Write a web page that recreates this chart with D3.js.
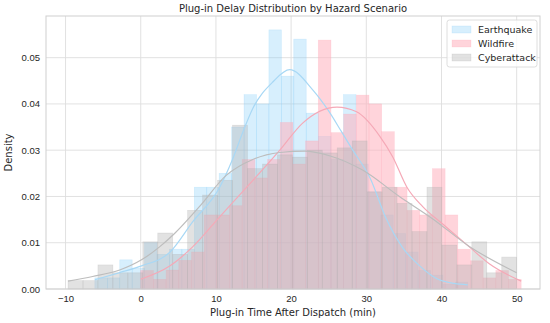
<!DOCTYPE html>
<html>
<head>
<meta charset="utf-8">
<script src="https://cdn.jsdelivr.net/npm/d3@7"></script>
<style>
  body { margin: 0; background: #fff; }
  svg { display: block; font-family: "DejaVu Sans", sans-serif; }
</style>
</head>
<body>
<div id="chart"></div>
<script>
// Series names and colours
var seriesNames = ["Earthquake", "Wildfire", "Cyberattack"];

// Histogram ranges (30 equal bins each) and densities
var quakeRange = [-6.1, 43.5];
var quakeDensity = [0.0024, 0.0024, 0.0063, 0.0045, 0.0100, 0.0075, 0.0086, 0.0086, 0.0220, 0.0220,
                    0.0250, 0.0350, 0.0420, 0.0400, 0.0560, 0.0460, 0.0540, 0.0380, 0.0330, 0.0280,
                    0.0420, 0.0270, 0.0210, 0.0160, 0.0120, 0.0080, 0.0040, 0.0030, 0.0010, 0.0015];

var fireRange = [0, 50.6];
var fireDensity = [0.0040, 0.0021, 0.0041, 0.0062, 0.0080, 0.0160, 0.0160, 0.0180, 0.0280, 0.0240,
                   0.0280, 0.0360, 0.0270, 0.0320, 0.0538, 0.0338, 0.0378, 0.0419, 0.0400, 0.0340,
                   0.0220, 0.0170, 0.0160, 0.0260, 0.0160, 0.0086, 0.0061, 0.0024, 0.0040, 0.0021];

var cyberRange = [-9.67, 50.0];
var cyberDensity = [0.0018, 0.0018, 0.0052, 0.0035, 0.0035, 0.0102, 0.0121, 0.0075, 0.0170, 0.0203,
                    0.0235, 0.0354, 0.0260, 0.0270, 0.0290, 0.0285, 0.0300, 0.0294, 0.0305, 0.0320,
                    0.0210, 0.0220, 0.0185, 0.0124, 0.0220, 0.0095, 0.0052, 0.0102, 0.0035, 0.0069];

// KDE curves: [minutes, density]
var quakeKde = [[-6.1, 0.0020], [-2.9, 0.0035], [0.1, 0.0050], [3.9, 0.0080], [6.9, 0.0145],
                [10.5, 0.0220], [12.2, 0.0280], [13.6, 0.0340], [14.9, 0.0390], [17.6, 0.0448],
                [19.8, 0.0474], [22.9, 0.0430], [24.9, 0.0387], [26.7, 0.0340], [28.2, 0.0300],
                [30.5, 0.0240], [32.7, 0.0150], [34.8, 0.0090], [37.1, 0.0050], [39.4, 0.0022],
                [41.7, 0.0012], [43.5, 0.0009]];

var fireKde = [[0, 0.0021], [3.9, 0.0050], [6.9, 0.0091], [10.5, 0.0156], [14.1, 0.0220],
               [18.5, 0.0300], [21.5, 0.0358], [26.1, 0.0393], [28.7, 0.0383], [31.8, 0.0330],
               [33.5, 0.0286], [35.4, 0.0220], [37.5, 0.0178], [40.2, 0.0140], [43.7, 0.0091],
               [46.4, 0.0054], [50.6, 0.0017]];

var cyberKde = [[-9.67, 0.0017], [-6.4, 0.0027], [-2.8, 0.0041], [0.1, 0.0063], [2.5, 0.0091],
                [4.5, 0.0120], [7.8, 0.0178], [11.4, 0.0246], [14.9, 0.0280], [18.5, 0.0295],
                [21.8, 0.0298], [25.1, 0.0288], [29.5, 0.0257], [34.4, 0.0200], [38.8, 0.0152],
                [43.7, 0.0092], [50.0, 0.0035]];

// Axis ticks
var xTicks = [-10, 0, 10, 20, 30, 40, 50];
var yTicks = [0, 0.01, 0.02, 0.03, 0.04, 0.05];

var styles = {
    Earthquake:  {fill: "#87cefa", fillOpacity: 0.33, stroke: "#87cefa", line: "#a8d8f5"},
    Wildfire:    {fill: "#ffb0be", fillOpacity: 0.55, stroke: "#ffa6b6", line: "#f5a9b7"},
    Cyberattack: {fill: "#b4b4b4", fillOpacity: 0.38, stroke: "#aaaaaa", line: "#bdbdbd"}
};

var width = 550, height = 323;
var plot = {left: 46, right: 540, top: 16, bottom: 289};

var svg = d3.select("#chart").append("svg")
    .attr("width", width)
    .attr("height", height);

var xScale = d3.scaleLinear().domain([-12.6, 53.1]).range([plot.left, plot.right]);
var yScale = d3.scaleLinear().domain([0, 0.059]).range([plot.bottom, plot.top]);

// grid
svg.append("g").selectAll("line").data(xTicks).enter().append("line")
    .attr("x1", function(d) { return xScale(d); })
    .attr("x2", function(d) { return xScale(d); })
    .attr("y1", plot.top).attr("y2", plot.bottom)
    .attr("stroke", "#dedede").attr("stroke-width", 0.9);
svg.append("g").selectAll("line").data(yTicks).enter().append("line")
    .attr("y1", function(d) { return yScale(d); })
    .attr("y2", function(d) { return yScale(d); })
    .attr("x1", plot.left).attr("x2", plot.right)
    .attr("stroke", "#dedede").attr("stroke-width", 0.9);

// build bins from a range + densities
function makeBins(range, dens) {
    var w = (range[1] - range[0]) / dens.length;
    return dens.map(function(d, i) {
        return {x0: range[0] + i * w, x1: range[0] + (i + 1) * w, y: d};
    });
}

var series = [
    {name: "Earthquake", bins: makeBins(quakeRange, quakeDensity), kde: quakeKde},
    {name: "Wildfire", bins: makeBins(fireRange, fireDensity), kde: fireKde},
    {name: "Cyberattack", bins: makeBins(cyberRange, cyberDensity), kde: cyberKde}
];

// histograms
series.forEach(function(s) {
    var st = styles[s.name];
    svg.append("g").attr("class", "hist")
        .selectAll("rect").data(s.bins).enter().append("rect")
        .attr("x", function(d) { return xScale(d.x0); })
        .attr("width", function(d) { return xScale(d.x1) - xScale(d.x0); })
        .attr("y", function(d) { return yScale(d.y); })
        .attr("height", function(d) { return yScale(0) - yScale(d.y); })
        .attr("fill", st.fill)
        .attr("fill-opacity", st.fillOpacity)
        .attr("stroke", st.stroke)
        .attr("stroke-opacity", 0.3)
        .attr("stroke-width", 0.6);
});

// KDE lines
var line = d3.line()
    .x(function(d) { return xScale(d[0]); })
    .y(function(d) { return yScale(d[1]); })
    .curve(d3.curveMonotoneX);

series.forEach(function(s) {
    svg.append("path")
        .datum(s.kde)
        .attr("d", line)
        .attr("fill", "none")
        .attr("stroke", styles[s.name].line)
        .attr("stroke-width", 1.2);
});

// frame
svg.append("rect")
    .attr("x", plot.left).attr("y", plot.top)
    .attr("width", plot.right - plot.left).attr("height", plot.bottom - plot.top)
    .attr("fill", "none").attr("stroke", "#d0d0d0").attr("stroke-width", 1);

// axes
var xAxis = d3.axisBottom(xScale).tickValues(xTicks).tickSize(0).tickPadding(6)
    .tickFormat(function(d) { return d < 0 ? "\u2212" + Math.abs(d) : d; });
var yAxis = d3.axisLeft(yScale).tickValues(yTicks).tickSize(0).tickPadding(6)
    .tickFormat(d3.format(".2f"));

var gx = svg.append("g").attr("transform", "translate(0," + plot.bottom + ")").call(xAxis);
var gy = svg.append("g").attr("transform", "translate(" + plot.left + ",0)").call(yAxis);
[gx, gy].forEach(function(g) {
    g.select(".domain").remove();
    g.selectAll("text").attr("fill", "#262626").style("font-size", "9.5px");
});

// labels
svg.append("text")
    .attr("x", (plot.left + plot.right) / 2).attr("y", 12)
    .attr("text-anchor", "middle").attr("fill", "#262626")
    .style("font-size", "10px")
    .text("Plug-in Delay Distribution by Hazard Scenario");

svg.append("text")
    .attr("x", (plot.left + plot.right) / 2).attr("y", 316)
    .attr("text-anchor", "middle").attr("fill", "#262626")
    .style("font-size", "10px")
    .text("Plug-in Time After Dispatch (min)");

svg.append("text")
    .attr("transform", "translate(12," + ((plot.top + plot.bottom) / 2) + ") rotate(-90)")
    .attr("text-anchor", "middle").attr("fill", "#262626")
    .style("font-size", "10px")
    .text("Density");

// legend
var legend = svg.append("g").attr("transform", "translate(447,20)");
legend.append("rect")
    .attr("width", 90).attr("height", 47).attr("rx", 2.5)
    .attr("fill", "#fff").attr("fill-opacity", 0.8)
    .attr("stroke", "#d6d6d6").attr("stroke-width", 0.8);
seriesNames.forEach(function(name, i) {
    var st = styles[name];
    var row = legend.append("g").attr("transform", "translate(5," + (6 + i * 14) + ")");
    row.append("rect")
        .attr("width", 19).attr("height", 7)
        .attr("fill", st.fill).attr("fill-opacity", st.fillOpacity)
        .attr("stroke", st.stroke).attr("stroke-opacity", 0.3).attr("stroke-width", 0.6);
    row.append("text")
        .attr("x", 26).attr("y", 7)
        .attr("fill", "#262626")
        .style("font-size", "9.5px")
        .text(name);
});
</script>
</body>
</html>
